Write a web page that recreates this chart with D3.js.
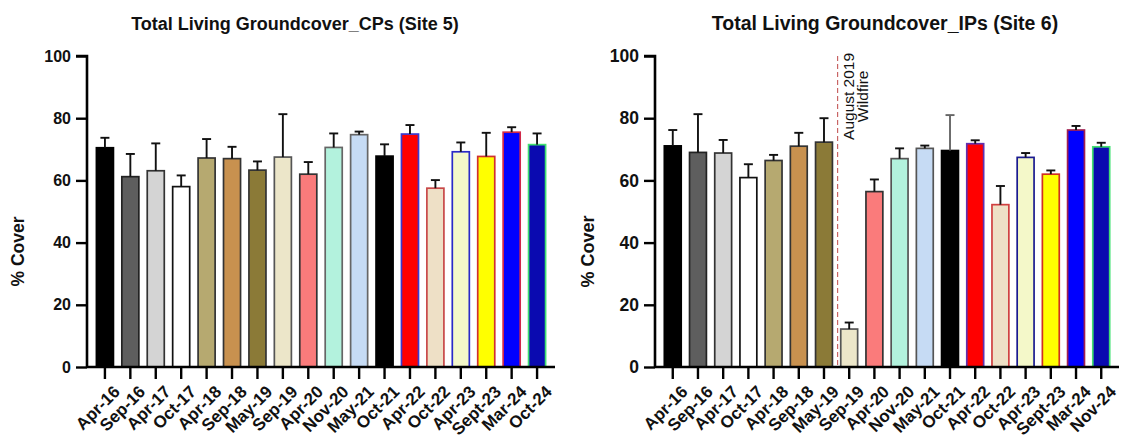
<!DOCTYPE html>
<html>
<head>
<meta charset="utf-8">
<script src="https://cdn.jsdelivr.net/npm/d3@7"></script>
<style>
  html, body { margin: 0; padding: 0; background: #fff; }
  svg { display: block; font-family: "Liberation Sans", Arial, sans-serif; }
</style>
</head>
<body>
<svg id="chart" width="1121" height="441"></svg>
<script>
// Sampling dates for each site
const datesCP = ["Apr-16","Sep-16","Apr-17","Oct-17","Apr-18","Sep-18","May-19","Sep-19","Apr-20","Nov-20","May-21","Oct-21","Apr-22","Oct-22","Apr-23","Sept-23","Mar-24","Oct-24"];
const datesIP = ["Apr-16","Sep-16","Apr-17","Oct-17","Apr-18","Sep-18","May-19","Sep-19","Apr-20","Nov-20","May-21","Oct-21","Apr-22","Oct-22","Apr-23","Sept-23","Mar-24","Nov-24"];

// Mean % living groundcover and standard deviation (upper error bar)
const meanCP = [70.5, 61.2, 63.1, 58.0, 67.2, 67.0, 63.3, 67.5, 62.0, 70.6, 74.7, 67.8, 74.9, 57.5, 69.2, 67.7, 75.5, 71.5];
const sdCP   = [3.2, 7.3, 8.8, 3.6, 6.1, 3.8, 2.8, 13.8, 3.9, 4.5, 1.0, 3.8, 2.9, 2.6, 3.0, 7.6, 1.6, 3.6];
const meanIP = [71.1, 69.0, 68.8, 60.9, 66.4, 71.0, 72.3, 12.2, 56.4, 67.0, 70.3, 69.6, 71.8, 52.2, 67.4, 62.0, 76.2, 70.8];
const sdIP   = [5.1, 12.3, 4.2, 4.3, 1.8, 4.3, 7.7, 2.1, 3.9, 3.3, 0.9, 11.4, 1.1, 6.0, 1.4, 1.2, 1.3, 1.3];

// Per-date bar fill and outline colours
const fills   = ["#000000","#5e5e5e","#d4d4d4","#ffffff","#b6a970","#c8914f","#8b7a37","#ece6c9","#fa7b7b","#b3f2dd","#c6dbf4","#000000","#ff0000","#eee0c6","#f4f8c9","#ffff00","#0000ff","#0a0ab0"];
const strokesCP = ["#000000","#222222","#333333","#111111","#333333","#333333","#333333","#555555","#333333","#666666","#666666","#000000","#3a3ad0","#c84848","#2a2ac8","#d03030","#d02848","#40e070"];
const strokesIP = ["#000000","#222222","#333333","#111111","#333333","#333333","#333333","#555555","#333333","#555555","#555555","#000000","#6030b0","#d04040","#1a1a90","#d03020","#a02050","#40e070"];

const yTicks = [0, 20, 40, 60, 80, 100];

const svg = d3.select("#chart");
const yTop = 56, yBottom = 367;
const FONT = "'Liberation Sans', Arial, sans-serif";

function drawPanel(opts) {
  const { title, titleX, x0, x1, dates, means, sds, strokes, errColors, fs } = opts;
  const g = svg.append("g");

  const x = d3.scaleBand().domain(dates).range([x0, x1]).paddingInner(0.33).paddingOuter(0.37);
  const y = d3.scaleLinear().domain([0, 100]).range([yBottom, yTop]);

  // Title
  g.append("text")
    .attr("x", titleX).attr("y", 30)
    .attr("text-anchor", "middle")
    .attr("font-size", fs.title).attr("font-weight", "bold")
    .attr("fill", "#111")
    .text(title);

  // Bars
  const rows = dates.map((d, i) => ({ d, m: means[i], s: sds[i], fill: fills[i], stroke: strokes[i], err: errColors ? errColors[i] : "#111" }));
  g.selectAll("rect.bar").data(rows).join("rect")
    .attr("class", "bar")
    .attr("x", r => x(r.d))
    .attr("width", x.bandwidth())
    .attr("y", r => y(r.m))
    .attr("height", r => y(0) - y(r.m))
    .attr("fill", r => r.fill)
    .attr("stroke", r => r.stroke)
    .attr("stroke-width", 1.7);

  // Upper error bars (mean + SD)
  const cap = 4.5;
  const eb = g.selectAll("g.err").data(rows).join("g").attr("class", "err");
  eb.append("line")
    .attr("x1", r => x(r.d) + x.bandwidth() / 2).attr("x2", r => x(r.d) + x.bandwidth() / 2)
    .attr("y1", r => y(r.m)).attr("y2", r => y(r.m + r.s))
    .attr("stroke", r => r.err).attr("stroke-width", 1.9);
  eb.append("line")
    .attr("x1", r => x(r.d) + x.bandwidth() / 2 - cap).attr("x2", r => x(r.d) + x.bandwidth() / 2 + cap)
    .attr("y1", r => y(r.m + r.s)).attr("y2", r => y(r.m + r.s))
    .attr("stroke", r => r.err).attr("stroke-width", 1.9);

  // Y axis
  const yAxis = g.append("g")
    .attr("transform", `translate(${x0},0)`)
    .call(d3.axisLeft(y).tickValues(yTicks).tickSize(11).tickPadding(5));
  yAxis.select(".domain").attr("stroke", "#000").attr("stroke-width", 2.6)
    .attr("d", `M-11,${yTop}H0V${yBottom}`);
  yAxis.selectAll(".tick line").attr("stroke", "#000").attr("stroke-width", 2.4);
  yAxis.selectAll(".tick text")
    .attr("font-size", fs.ytick).attr("font-weight", "bold").attr("fill", "#111")
    .attr("font-family", FONT);

  // X axis with rotated date labels
  const xAxis = g.append("g")
    .attr("transform", `translate(0,${yBottom})`)
    .call(d3.axisBottom(x).tickSize(12).tickSizeOuter(0).tickPadding(4));
  xAxis.select(".domain").attr("stroke", "#000").attr("stroke-width", 2.6)
    .attr("d", `M${x0},0H${x1}`);
  xAxis.selectAll(".tick line").attr("stroke", "#000").attr("stroke-width", 2.4);
  xAxis.selectAll(".tick text")
    .attr("font-size", fs.xtick).attr("font-weight", "bold").attr("fill", "#111")
    .attr("font-family", FONT)
    .attr("text-anchor", "end")
    .attr("dy", "0.3em")
    .attr("transform", "translate(1,11) rotate(-45)");

  // Y axis title
  g.append("text")
    .attr("transform", `translate(${opts.yTitleX},${(yTop + yBottom) / 2 + 40}) rotate(-90)`)
    .attr("text-anchor", "middle")
    .attr("font-size", fs.ytitle).attr("font-weight", "bold").attr("fill", "#111")
    .text("% Cover");

  return { x, y, g };
}

drawPanel({
  title: "Total Living Groundcover_CPs (Site 5)", titleX: 295,
  x0: 87, x1: 555, dates: datesCP, means: meanCP, sds: sdCP, strokes: strokesCP, yTitleX: 24,
  fs: { title: 18, ytick: 16, xtick: 17, ytitle: 17.5 }
});

const right = drawPanel({
  title: "Total Living Groundcover_IPs (Site 6)", titleX: 885,
  x0: 655, x1: 1119, dates: datesIP, means: meanIP, sds: sdIP, strokes: strokesIP, yTitleX: 594,
  errColors: datesIP.map((d, i) => i === 11 ? "#666" : "#111"),
  fs: { title: 19.5, ytick: 17.5, xtick: 17, ytitle: 18 }
});

// Wildfire marker between May-19 and Sep-19
const fx = right.x("Sep-19") - (right.x.step() - right.x.bandwidth()) / 2 + 1;
right.g.append("line")
  .attr("x1", fx).attr("x2", fx)
  .attr("y1", right.y(100)).attr("y2", right.y(0))
  .attr("stroke", "#c86464").attr("stroke-width", 1.2)
  .attr("stroke-dasharray", "5,3");
const ann = right.g.append("text")
  .attr("transform", `translate(${fx + 16},${right.y(87)}) rotate(-90)`)
  .attr("text-anchor", "middle")
  .attr("font-size", 15.5).attr("fill", "#111");
ann.append("tspan").attr("x", 0).attr("dy", 0).text("August 2019");
ann.append("tspan").attr("x", 0).attr("dy", "0.95em").text("Wildfire");
</script>
</body>
</html>
